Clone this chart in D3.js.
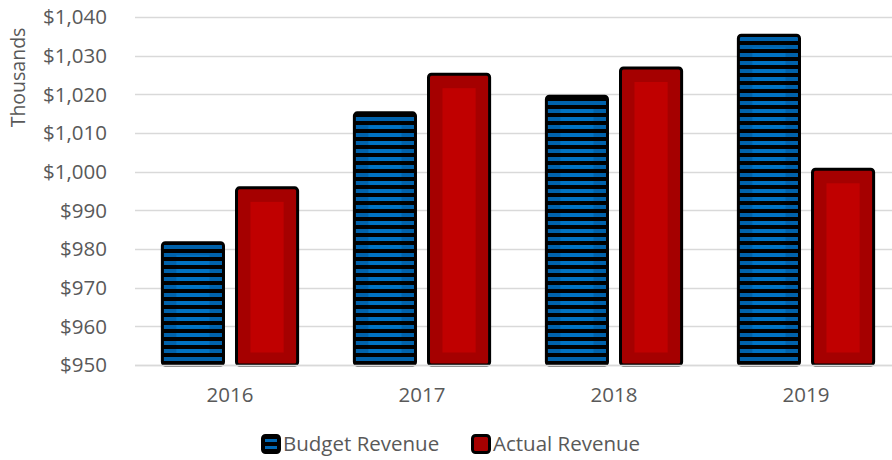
<!DOCTYPE html>
<html>
<head>
<meta charset="utf-8">
<script src="https://cdn.jsdelivr.net/npm/d3@7/dist/d3.min.js"></script>
<style>
  html, body { margin: 0; padding: 0; background: #fff; }
  svg { display: block; font-family: "Open Sans", sans-serif; }
</style>
</head>
<body>
<svg id="chart" width="892" height="460"></svg>
<script>
const years = ["2016", "2017", "2018", "2019"];
const seriesNames = ["Budget Revenue", "Actual Revenue"];
const budget = [982, 1015.6, 1019.9, 1035.7];
const actual = [996.2, 1025.6, 1027.2, 1001];
const yTicks = [950, 960, 970, 980, 990, 1000, 1010, 1020, 1030, 1040];
const yTitle = "Thousands";

const svg = d3.select("#chart");
const W = 892, H = 460;
const plot = { left: 135, right: 892, top: 17, bottom: 365 };

const x0 = d3.scaleBand().domain(years).range([134, 902]).paddingInner(0.28).paddingOuter(0.14);
const x1 = d3.scaleBand().domain(seriesNames).range([0, x0.bandwidth()]).paddingInner(0.135);
const y = d3.scaleLinear().domain([950, 1040]).range([plot.bottom, plot.top]);

const defs = svg.append("defs");
function stripes(id, color) {
  const p = defs.append("pattern").attr("id", id).attr("patternUnits", "userSpaceOnUse")
    .attr("x", 0).attr("y", 5).attr("width", 8).attr("height", 8);
  p.append("rect").attr("width", 8).attr("height", 8).attr("fill", "#000");
  p.append("rect").attr("width", 8).attr("height", 4).attr("fill", color);
}
stripes("stripeDark", "#0062ab");
stripes("stripeLight", "#0072c2");

// gridlines
svg.append("g").selectAll("line").data(yTicks).join("line")
  .attr("x1", plot.left).attr("x2", plot.right)
  .attr("y1", d => Math.round(y(d)) + 0.5).attr("y2", d => Math.round(y(d)) + 0.5)
  .attr("stroke", "#d9d9d9").attr("stroke-width", 1.3);

// y axis labels
const fmt = d3.format("$,");
svg.append("g").selectAll("text").data(yTicks).join("text")
  .attr("x", 107).attr("y", d => y(d)).attr("dy", "0.36em")
  .attr("text-anchor", "end").attr("fill", "#595959").attr("font-size", "20.5px")
  .text(d => fmt(d));

svg.append("text").attr("transform", "translate(25,77.5) rotate(-90)")
  .attr("text-anchor", "middle").attr("fill", "#595959").attr("font-size", "19.5px")
  .text(yTitle);

// bars
const data = years.map((yr, i) => ({ yr, vals: [budget[i], actual[i]] }));
const groups = svg.append("g").selectAll("g").data(data).join("g")
  .attr("transform", d => `translate(${x0(d.yr)},0)`);

groups.each(function(d) {
  const g = d3.select(this);
  d.vals.forEach((v, si) => {
    const bx = x1(seriesNames[si]);
    const bw = x1.bandwidth();
    const top = y(v);
    const bottom = y(950);
    const h = bottom - top;
    if (si === 0) {
      g.append("rect").attr("x", bx + 1.5).attr("y", top + 1.5).attr("width", bw - 3).attr("height", h - 1.5)
        .attr("rx", 3).attr("fill", "url(#stripeDark)").attr("stroke", "#000").attr("stroke-width", 3);
      g.append("rect").attr("x", bx + 15.5).attr("y", top + 14).attr("width", Math.max(0, bw - 31))
        .attr("height", Math.max(0, h - 26)).attr("fill", "url(#stripeLight)");
    } else {
      g.append("rect").attr("x", bx + 1.5).attr("y", top + 1.5).attr("width", bw - 3).attr("height", h - 1.5)
        .attr("rx", 3).attr("fill", "#a50000").attr("stroke", "#000").attr("stroke-width", 3);
      g.append("rect").attr("x", bx + 15.5).attr("y", top + 15.5).attr("width", Math.max(0, bw - 31))
        .attr("height", Math.max(0, h - 28)).attr("fill", "#c00000");
    }
  });
});

// baseline over bars
svg.append("line").attr("x1", plot.left).attr("x2", plot.right)
  .attr("y1", Math.round(y(950)) + 0.5).attr("y2", Math.round(y(950)) + 0.5)
  .attr("stroke", "#d9d9d9").attr("stroke-width", 1.5);

// x axis labels
svg.append("g").selectAll("text").data(years).join("text")
  .attr("x", d => x0(d) + x0.bandwidth() / 2).attr("y", 402)
  .attr("text-anchor", "middle").attr("fill", "#595959").attr("font-size", "20.5px")
  .text(d => d);

// legend
const legendItems = [
  { name: seriesNames[0], x: 261 },
  { name: seriesNames[1], x: 471 }
];
const lg = svg.append("g");
legendItems.forEach((it, i) => {
  const g = lg.append("g");
  if (i === 0) {
    g.append("rect").attr("x", it.x + 1.5).attr("y", 435.5).attr("width", 17).attr("height", 17).attr("rx", 3)
      .attr("fill", "#000").attr("stroke", "#000").attr("stroke-width", 3);
    g.append("rect").attr("x", it.x + 4).attr("y", 439).attr("width", 12).attr("height", 3).attr("fill", "#0068b5");
    g.append("rect").attr("x", it.x + 4).attr("y", 446).attr("width", 12).attr("height", 3).attr("fill", "#0068b5");
  } else {
    g.append("rect").attr("x", it.x + 1.5).attr("y", 435.5).attr("width", 17).attr("height", 17).attr("rx", 3)
      .attr("fill", "#a50000").attr("stroke", "#000").attr("stroke-width", 3);
  }
  g.append("text").attr("x", it.x + 22).attr("y", 451).attr("fill", "#595959").attr("font-size", "20.5px")
    .text(it.name);
});
</script>
</body>
</html>
